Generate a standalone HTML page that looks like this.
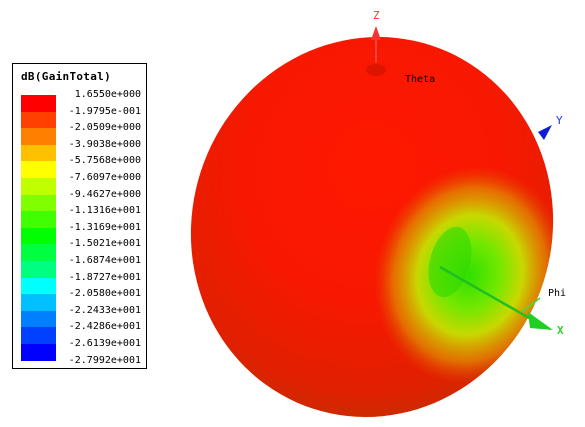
<!DOCTYPE html>
<html><head><meta charset="utf-8"><style>
html,body{margin:0;padding:0;background:#fff;overflow:hidden;width:585px;height:427px;}
#root{position:relative;width:585px;height:427px;overflow:hidden;font-family:"DejaVu Sans Mono","Liberation Mono",monospace;}
#legend{position:absolute;left:12px;top:63px;width:135px;height:306px;border:1px solid #000;box-sizing:border-box;background:#fff;overflow:hidden;}
#ltitle{position:absolute;left:8px;top:6px;font-size:11px;font-weight:bold;letter-spacing:0.3px;}
.lab{position:absolute;right:5px;font-size:10px;line-height:12px;}
.band{position:absolute;left:8px;width:35px;}
</style></head><body>
<div id="root">
<svg width="585" height="427" style="position:absolute;left:0;top:0;display:block">
<defs>
<radialGradient id="body" cx="0.45" cy="0.35" r="0.7">
<stop offset="0" stop-color="#ff1800"/>
<stop offset="0.5" stop-color="#f81800"/>
<stop offset="0.85" stop-color="#e02000"/>
<stop offset="1" stop-color="#c03000"/>
</radialGradient>
<radialGradient id="dimple" cx="0.5" cy="0.5" r="0.5">
<stop offset="0" stop-color="#30e000"/>
<stop offset="0.3" stop-color="#70e800"/>
<stop offset="0.55" stop-color="#c8d800"/>
<stop offset="0.8" stop-color="#e09000" stop-opacity="0.7"/>
<stop offset="1" stop-color="#e05000" stop-opacity="0"/>
</radialGradient>
<clipPath id="bodyclip"><ellipse cx="372" cy="227" rx="180" ry="191" transform="rotate(18 372 227)"/></clipPath>
</defs>
<g>
<ellipse cx="372" cy="227" rx="180" ry="191" fill="url(#body)" transform="rotate(18 372 227)"/>
<g clip-path="url(#bodyclip)">
<ellipse cx="470" cy="275" rx="95" ry="110" fill="url(#dimple)" transform="rotate(15 470 275)"/>
<ellipse cx="450" cy="262" rx="20" ry="36" fill="#30d800" opacity="0.6" transform="rotate(15 450 262)"/>
</g>
<ellipse cx="376" cy="70" rx="10" ry="6" fill="#c01000" opacity="0.5"/>
</g>
<g>
<line x1="376" y1="62" x2="376" y2="30" stroke="#ff4040" stroke-width="2"/>
<polygon points="371,40 381,40 376,26" fill="#ff3030"/>
<text x="373" y="19" font-size="11" fill="#ff3030" font-family="DejaVu Sans Mono,monospace">Z</text>
<text x="405" y="82" font-size="10" fill="#000" font-family="DejaVu Sans Mono,monospace">Theta</text>
<polygon points="538,132 552,125 544,140" fill="#1020d0"/>
<text x="556" y="124" font-size="11" fill="#2030ff" font-family="DejaVu Sans Mono,monospace">Y</text>
<line x1="440" y1="267" x2="545" y2="327" stroke="#20c020" stroke-width="2.5"/>
<polygon points="528,312 553,330 530,328" fill="#20d020"/>
<line x1="522" y1="312" x2="540" y2="298" stroke="#40e040" stroke-width="1.5"/>
<text x="548" y="296" font-size="10" fill="#000" font-family="DejaVu Sans Mono,monospace">Phi</text>
<text x="557" y="334" font-size="11" fill="#30d030" font-weight="bold" font-family="DejaVu Sans Mono,monospace">X</text>
</g>
</svg>
<div id="legend">
<div id="ltitle">dB(GainTotal)</div>
</div>
</div>
<script>
const bandColors=["#ff0000","#ff4000","#ff8000","#ffc000","#ffff00","#c0ff00","#80ff00","#40ff00","#00ff00","#00ff40","#00ff80","#00ffff","#00c0ff","#0080ff","#0040ff","#0000ff"];
const tickLabels=["1.6550e+000","-1.9795e-001","-2.0509e+000","-3.9038e+000","-5.7568e+000","-7.6097e+000","-9.4627e+000","-1.1316e+001","-1.3169e+001","-1.5021e+001","-1.6874e+001","-1.8727e+001","-2.0580e+001","-2.2433e+001","-2.4286e+001","-2.6139e+001","-2.7992e+001"];
const lg=document.getElementById('legend');
const top0=31,bh=16.6;
bandColors.forEach((c,i)=>{
  const d=document.createElement('div');
  d.className='band';
  d.style.top=(top0+i*bh)+'px';d.style.height=(bh+0.5)+'px';d.style.background=c;
  
  
  lg.appendChild(d);
});
tickLabels.forEach((t,i)=>{
  const d=document.createElement('div');
  d.className='lab';
  d.style.top=(top0-6+i*bh*bandColors.length/(tickLabels.length-1))+'px';
  d.textContent=t;
  
  
  lg.appendChild(d);
});
</script>
</body></html>
